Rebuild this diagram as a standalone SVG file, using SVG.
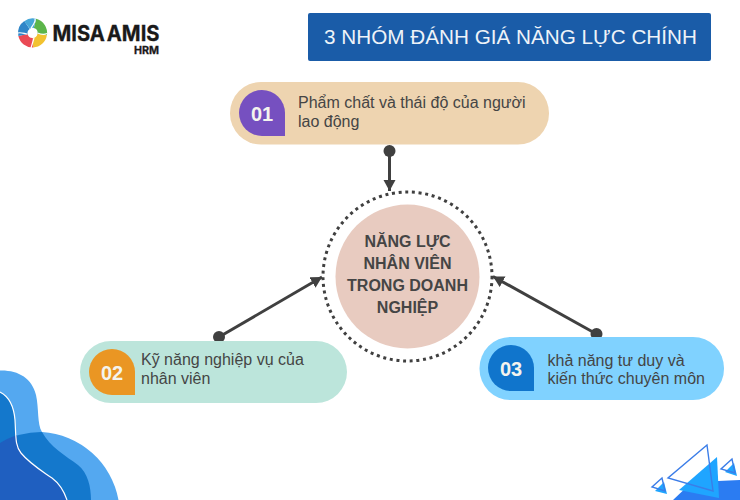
<svg xmlns="http://www.w3.org/2000/svg" width="740" height="500" viewBox="0 0 740 500">
<style>
text{font-family:"Liberation Sans",Arial,sans-serif;fill:#454545}
.lbl{font-size:16px}
.num{font-size:20px;font-weight:700;fill:#f4f4ee;text-anchor:middle}
.ctr{font-size:16px;font-weight:700;text-anchor:middle}
.con{stroke:#404040;stroke-width:3;fill:none;marker-end:url(#arr)}
.tri{fill:none;stroke:#3b7de8;stroke-width:1.4}
.cy{fill:#1fa5ff}
.logo{font-family:Inter,"Liberation Sans",sans-serif;font-weight:700;fill:#1a1a1a;stroke:#1a1a1a;stroke-width:.3}
.sep{fill:none;stroke:#fff;stroke-width:1.2}
</style>
<defs>
<marker id="arr" markerUnits="userSpaceOnUse" markerWidth="14" markerHeight="14" refX="11" refY="6.500" orient="auto">
<path d="M0,0.500 L11,6.500 L0,12.500 Z" fill="#404040"/>
</marker>
</defs>
<rect width="740" height="500" fill="#fff"/>

<g id="decor-left">
<path d="M0,370.500 C18,370 32,378 36,395 C39,408 37,424 42,432 A83,83 0 0 1 118.500,500 L0,500 Z" fill="#54a8f0"/>
<path d="M42,432 C50,447 66,456 78,465 C88,473 91,487 91,500 L0,500 L0,443 A83,83 0 0 1 42,432 Z" fill="#1478cc"/>
<path d="M0,392 C10,397 14,408 15,420 C16,432 15,441 18,440 L0,445 Z" fill="#1478cc"/>
<path d="M0,443 A83,83 0 0 1 17,435 C17,446 21,453 30,462 C42,473 60,478 67,500 L0,500 Z" fill="#1f5fc0"/>
<path d="M0,392 C10,397 14,408 15,420 C16,436 15,446 21,453 C30,464 42,471 52,478 C60,484 64,491 67,500" fill="none" stroke="#fff" stroke-width="1.2"/>
</g>

<g id="decor-right">
<path d="M673,500 L692,482 L718,481 L740,480 L740,500 Z" fill="#2b7cf2"/>
<path class="cy" d="M717,457 L679,490 L719,498 Z"/>
<path class="tri" d="M707,445 L668,478 L713,491 Z"/>
<path class="cy" d="M734,463 L725,472 L737,476 Z"/>
<path class="tri" d="M732,459 L721,469 L735,473 Z" stroke-width="1"/>
<path class="cy" d="M664,482 L655,491 L667,494 Z"/>
<path class="tri" d="M662,478 L652,487 L665,491 Z" stroke-width="1"/>
</g>

<g id="logo">
<g fill="none" stroke-width="9.500">
<path d="M35,23.400 A9.750,9.750 0 0 1 42.200,34.500" stroke="#5cb54a"/>
<path d="M42.200,34.500 A9.750,9.750 0 0 1 33,42.700" stroke="#f2c230"/>
<path d="M33,42.700 A9.750,9.750 0 0 1 23,35" stroke="#ea4a55"/>
<path d="M23,35 A9.750,9.750 0 0 1 27,25" stroke="#2f86c8"/>
<path d="M27,25 A9.750,9.750 0 0 1 35,23.400" stroke="#45a6d8"/>
</g>
<path class="sep" d="M31,28 C33,25 36,22 35,18.500"/>
<path class="sep" d="M37.500,33 C40,34 44,35 47,33.500"/>
<path class="sep" d="M34,38 C33,41 32,45 31,48"/>
<path class="sep" d="M27.500,34 C25,34 21,32 18,33"/>
<text class="logo" x="52.500" y="41" font-size="21" word-spacing="-3" textLength="107" lengthAdjust="spacingAndGlyphs">MISA AMIS</text>
<text class="logo" x="134" y="53.500" font-size="10.500" textLength="25" lengthAdjust="spacingAndGlyphs">HRM</text>
</g>

<g id="title">
<rect x="308" y="13" width="403" height="48" rx="2" fill="#1a5ca8"/>
<text x="510.500" y="43.500" font-size="20.700" text-anchor="middle" style="fill:#eef3f8">3 NHÓM ĐÁNH GIÁ NĂNG LỰC CHÍNH</text>
</g>

<g id="connectors">
<circle cx="389.500" cy="151" r="6" fill="#404040"/>
<path class="con" d="M389.500,151 L389.500,191"/>
<circle cx="219" cy="337" r="6" fill="#404040"/>
<path class="con" d="M219,337 L322,277"/>
<circle cx="596.500" cy="334" r="6" fill="#404040"/>
<path class="con" d="M596.500,334 L493,276.500"/>
</g>

<g id="center">
<circle cx="407.500" cy="276.500" r="84.500" fill="none" stroke="#404040" stroke-width="3" stroke-dasharray="3 3.700"/>
<circle cx="407.500" cy="276.500" r="72" fill="#e8cbc0"/>
<text class="ctr" x="407.500" y="247">NĂNG LỰC</text>
<text class="ctr" x="407.500" y="269">NHÂN VIÊN</text>
<text class="ctr" x="407.500" y="291">TRONG DOANH</text>
<text class="ctr" x="407.500" y="313">NGHIỆP</text>
</g>

<g id="node-01">
<rect x="230" y="82" width="319" height="62.500" rx="31" fill="#eed4b0"/>
<path d="M285,136 H262 A23,23 0 1 1 285,113 Z" fill="#7650c0"/>
<text class="num" x="262" y="121">01</text>
<text class="lbl" x="298" y="108">Phẩm chất và thái độ của người</text>
<text class="lbl" x="298" y="127">lao động</text>
</g>

<g id="node-02">
<rect x="80" y="341" width="267" height="62" rx="31" fill="#bce5db"/>
<path d="M135,395 H112 A23,23 0 1 1 135,372 Z" fill="#ea9623"/>
<text class="num" x="112" y="380">02</text>
<text class="lbl" x="141" y="365">Kỹ năng nghiệp vụ của</text>
<text class="lbl" x="141" y="384">nhân viên</text>
</g>

<g id="node-03">
<rect x="479.500" y="337" width="244.500" height="63" rx="31" fill="#80d2ff"/>
<path d="M534,391 H511 A23,23 0 1 1 534,368 Z" fill="#1075cc"/>
<text class="num" x="511" y="376">03</text>
<text class="lbl" x="547.500" y="366">khả năng tư duy và</text>
<text class="lbl" x="547.500" y="384">kiến thức chuyên môn</text>
</g>
</svg>
